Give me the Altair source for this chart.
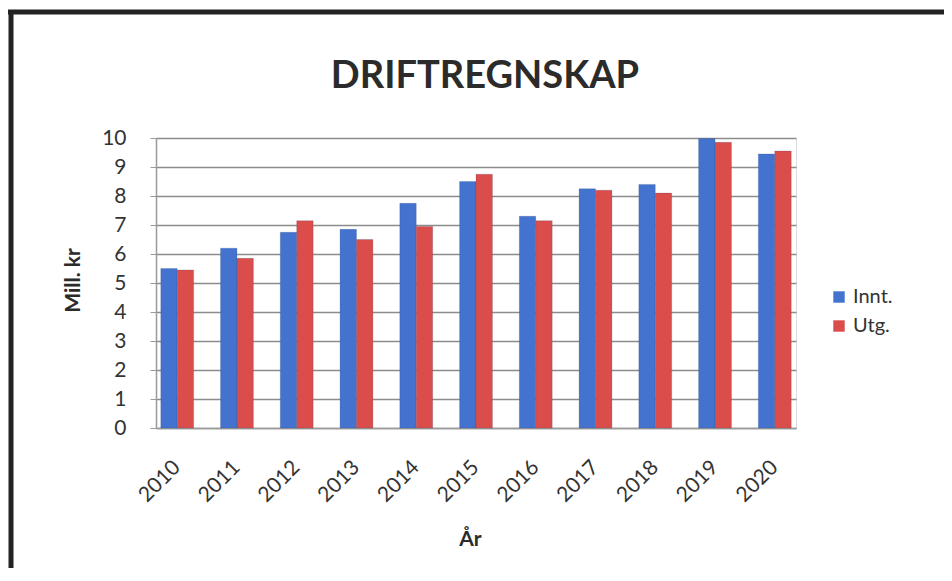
import altair as alt
import pandas as pd

years = ["2010", "2011", "2012", "2013", "2014", "2015", "2016", "2017", "2018", "2019", "2020"]
innt = [5.5, 6.2, 6.75, 6.85, 7.75, 8.5, 7.3, 8.25, 8.4, 9.98, 9.45]
utg = [5.45, 5.85, 7.15, 6.5, 6.95, 8.75, 7.15, 8.2, 8.1, 9.85, 9.55]
series = ["Innt.", "Utg."]
colors = ["#4373CF", "#DB4D4A"]
title_text = "DRIFTREGNSKAP"

rows = []
for i, y in enumerate(years):
    rows.append({"År": y, "Serie": series[0], "Verdi": innt[i]})
    rows.append({"År": y, "Serie": series[1], "Verdi": utg[i]})
df = pd.DataFrame(rows)

FONT = "Lato"
W, H = 640, 290

bars = alt.Chart(df).mark_bar(stroke="#2a3f6a", strokeOpacity=0.25, strokeWidth=0.8).encode(
    x=alt.X("År:N", sort=years, title="År",
            scale=alt.Scale(paddingInner=0.45, paddingOuter=0.08),
            axis=alt.Axis(labelAngle=-45, labelAlign="right", labelBaseline="middle",
                          labelPadding=36, ticks=False, domain=True, domainColor="#9a9a9a",
                          domainWidth=1.5, labelFontSize=21, labelFont=FONT, labelColor="#333333",
                          titleFont=FONT, titleFontSize=21, titleFontWeight="bold", titleColor="#2b2b2b",
                          titleX=314, titleY=117, titleBaseline="alphabetic", titleAlign="center")),
    xOffset=alt.XOffset("Serie:N", sort=series),
    y=alt.Y("Verdi:Q", title="Mill. kr",
            scale=alt.Scale(domain=[0, 10], nice=False),
            axis=alt.Axis(values=list(range(0, 11)), grid=True, gridColor="#8c8c8c", gridWidth=1.5,
                          domain=True, domainColor="#9a9a9a", domainWidth=1.5,
                          ticks=True, tickSize=6, tickColor="#9a9a9a", labelPadding=24,
                          labelFontSize=21, labelFont=FONT, labelColor="#333333",
                          titleFont=FONT, titleFontSize=21, titleFontWeight="bold", titleColor="#2b2b2b",
                          titleAngle=-90, titleX=-73, titleY=142, titleAlign="center",
                          titleBaseline="bottom")),
    color=alt.Color("Serie:N", sort=series, scale=alt.Scale(domain=series, range=colors),
                    legend=alt.Legend(title=None, orient="none", legendX=673, legendY=149,
                                      symbolType="square", symbolSize=130, symbolStrokeWidth=0,
                                      labelFont=FONT, labelFontSize=20, labelColor="#333333",
                                      rowPadding=9, labelOffset=4)),
)

frame_data = alt.Data(values=[{"t": title_text}])
left_border = alt.Chart(frame_data).mark_rule(color="#222222", strokeWidth=5).encode(
    x=alt.value(-145), y=alt.value(-126), y2=alt.value(H + 140))
top_border = alt.Chart(frame_data).mark_rule(color="#222222", strokeWidth=5).encode(
    x=alt.value(-148), x2=alt.value(W + 150), y=alt.value(-126))
title = alt.Chart(frame_data).mark_text(font=FONT, fontSize=38, fontWeight="bold", color="#2b2b2b",
                                        align="center", baseline="alphabetic").encode(
    text="t:N", x=alt.value(W / 2 + 9), y=alt.value(-50))

chart = alt.layer(bars, left_border, top_border, title).properties(
    width=W, height=H,
    autosize=alt.AutoSizeParams(type="none"),
    padding={"left": 148, "top": 130, "right": 148, "bottom": 140},
).configure_view(stroke=None).configure(background="white")

chart.save("out.html", embed_options={"renderer": "svg", "actions": False})
